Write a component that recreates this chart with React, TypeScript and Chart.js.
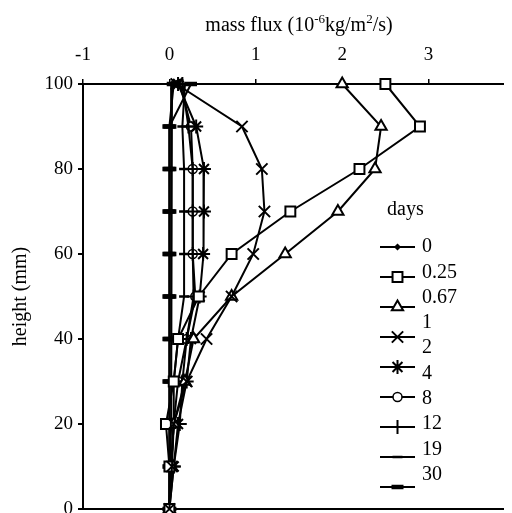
import React, { useEffect, useRef } from "react";
import { Chart, registerables } from "chart.js";

Chart.register(...registerables);

const heights = [100, 90, 80, 70, 60, 50, 40, 30, 20, 10, 0];
const dayLabels = ["0", "0.25", "0.67", "1", "2", "4", "8", "12", "19", "30"];

const flux0 = [0.03, 0.02, 0.02, 0.02, 0.02, 0.02, 0.02, 0.02, 0.02, 0.01, 0.0];
const flux025 = [2.5, 2.9, 2.2, 1.4, 0.72, 0.34, 0.1, 0.05, -0.04, 0.0, 0.0];
const flux067 = [2.0, 2.45, 2.38, 1.95, 1.34, 0.72, 0.28, 0.18, 0.05, 0.02, 0.0];
const flux1 = [0.08, 0.84, 1.07, 1.1, 0.97, 0.72, 0.43, 0.2, 0.05, 0.03, 0.0];
const flux2 = [0.1, 0.31, 0.4, 0.4, 0.39, 0.35, 0.25, 0.2, 0.1, 0.05, 0.0];
const flux4 = [0.12, 0.25, 0.27, 0.27, 0.27, 0.3, 0.2, 0.1, 0.05, 0.02, 0.0];
const flux8 = [0.15, 0.22, 0.27, 0.27, 0.27, 0.28, 0.2, 0.15, 0.12, 0.05, 0.0];
const flux12 = [0.18, 0.15, 0.17, 0.17, 0.17, 0.17, 0.1, 0.05, 0.05, 0.02, 0.0];
const flux19 = [0.25, 0.0, 0.0, 0.0, 0.0, 0.0, 0.0, 0.0, 0.0, 0.0, 0.0];
const flux30 = [0.05, 0.0, 0.0, 0.0, 0.0, 0.0, 0.0, 0.0, 0.0, 0.0, 0.0];

const xTicks = [-1, 0, 1, 2, 3, 4];
const yTicks = [0, 20, 40, 60, 80, 100];

const seriesValues = [flux0, flux025, flux067, flux1, flux2, flux4, flux8, flux12, flux19, flux30];

type Marker = { style: string; radius: number; bw: number; bg: string; order: number };
const markers: Marker[] = [
  { style: "rectRot", radius: 2.5, bw: 1.5, bg: "#000000", order: 5 },
  { style: "rect", radius: 7, bw: 2, bg: "#ffffff", order: 1 },
  { style: "triangle", radius: 6.5, bw: 2, bg: "#ffffff", order: 2 },
  { style: "crossRot", radius: 8, bw: 2, bg: "#ffffff", order: 0 },
  { style: "star", radius: 7, bw: 2, bg: "#ffffff", order: 3 },
  { style: "circle", radius: 3, bw: 1.5, bg: "#ffffff", order: 6 },
  { style: "cross", radius: 7, bw: 2, bg: "#ffffff", order: 4 },
  { style: "line", radius: 5, bw: 2.5, bg: "#000000", order: 4 },
  { style: "line", radius: 6, bw: 4.5, bg: "#000000", order: 3 },
  { style: "line", radius: 7, bw: 4.5, bg: "#000000", order: 3 },
];

const FONT = "'Liberation Serif', 'Times New Roman', serif";

function drawMarker(ctx: CanvasRenderingContext2D, m: Marker, x: number, y: number) {
  const r = m.radius;
  ctx.save();
  ctx.strokeStyle = "#000";
  ctx.fillStyle = m.bg;
  ctx.lineWidth = m.bw;
  ctx.beginPath();
  const s = Math.SQRT1_2 * r;
  switch (m.style) {
    case "rectRot":
      ctx.moveTo(x, y - r);
      ctx.lineTo(x + r, y);
      ctx.lineTo(x, y + r);
      ctx.lineTo(x - r, y);
      ctx.closePath();
      ctx.fill();
      ctx.stroke();
      break;
    case "rect":
      ctx.rect(x - s, y - s, 2 * s, 2 * s);
      ctx.fill();
      ctx.stroke();
      break;
    case "triangle":
      ctx.moveTo(x, y - r);
      ctx.lineTo(x + r * 0.866, y + r * 0.5);
      ctx.lineTo(x - r * 0.866, y + r * 0.5);
      ctx.closePath();
      ctx.fill();
      ctx.stroke();
      break;
    case "crossRot":
      ctx.moveTo(x - s, y - s);
      ctx.lineTo(x + s, y + s);
      ctx.moveTo(x - s, y + s);
      ctx.lineTo(x + s, y - s);
      ctx.stroke();
      break;
    case "star":
      ctx.moveTo(x - s, y - s);
      ctx.lineTo(x + s, y + s);
      ctx.moveTo(x - s, y + s);
      ctx.lineTo(x + s, y - s);
      ctx.moveTo(x, y - r);
      ctx.lineTo(x, y + r);
      ctx.stroke();
      break;
    case "circle":
      ctx.arc(x, y, r + 1.5, 0, Math.PI * 2);
      ctx.fill();
      ctx.stroke();
      break;
    case "cross":
      ctx.moveTo(x, y - r);
      ctx.lineTo(x, y + r);
      ctx.moveTo(x - r, y);
      ctx.lineTo(x + r, y);
      ctx.stroke();
      break;
    case "line":
      ctx.moveTo(x - r, y);
      ctx.lineTo(x + r, y);
      ctx.stroke();
      break;
  }
  ctx.restore();
}

const overlayPlugin = {
  id: "overlay",
  afterDraw(chart: any) {
    const ctx: CanvasRenderingContext2D = chart.ctx;
    const area = chart.chartArea;
    ctx.save();
    ctx.fillStyle = "#000";
    const big = `20px ${FONT}`;
    const small = `13px ${FONT}`;
    const parts: [string, boolean][] = [
      ["mass flux (10", false],
      ["-6", true],
      ["kg/m", false],
      ["2", true],
      ["/s)", false],
    ];
    let total = 0;
    for (const [t, sup] of parts) {
      ctx.font = sup ? small : big;
      total += ctx.measureText(t).width;
    }
    let x = (area.left + area.right) / 2 - total / 2;
    const baseY = 23;
    ctx.textBaseline = "alphabetic";
    ctx.textAlign = "left";
    for (const [t, sup] of parts) {
      ctx.font = sup ? small : big;
      ctx.fillText(t, x, sup ? baseY - 8 : baseY);
      x += ctx.measureText(t).width;
    }

    ctx.save();
    ctx.translate(13, (area.top + area.bottom) / 2);
    ctx.rotate(-Math.PI / 2);
    ctx.font = big;
    ctx.textAlign = "center";
    ctx.textBaseline = "middle";
    ctx.fillText("height (mm)", 0, 0);
    ctx.restore();

    ctx.font = `20px ${FONT}`;
    ctx.textAlign = "left";
    ctx.textBaseline = "middle";
    ctx.fillText("days", 379, 202);
    for (let i = 0; i < dayLabels.length; i++) {
      const my = 239 + 30 * i;
      ctx.save();
      ctx.strokeStyle = "#000";
      ctx.lineWidth = 2;
      ctx.beginPath();
      ctx.moveTo(372, my);
      ctx.lineTo(407, my);
      ctx.stroke();
      ctx.restore();
      drawMarker(ctx, markers[i], 389.5, my);
      ctx.fillStyle = "#000";
      ctx.fillText(dayLabels[i], 414, 239 + 25.3 * i);
    }
    ctx.restore();
  },
};

export default function App() {
  const canvasRef = useRef<HTMLCanvasElement | null>(null);

  useEffect(() => {
    if (!canvasRef.current) return;
    const datasets = seriesValues.map((vals, i) => ({
      label: dayLabels[i],
      data: vals.map((v, j) => ({ x: v, y: heights[j] })),
      order: markers[i].order,
      borderColor: "#000",
      borderWidth: 2,
      backgroundColor: markers[i].bg,
      pointStyle: markers[i].style,
      pointRadius: markers[i].style === "circle" ? markers[i].radius + 1.5 : markers[i].radius,
      pointBorderWidth: markers[i].bw,
      pointBorderColor: "#000",
      pointBackgroundColor: markers[i].bg,
      tension: 0,
      fill: false,
      clip: false as any,
    }));
    const chart = new Chart(canvasRef.current, {
      type: "line",
      data: { datasets },
      plugins: [overlayPlugin],
      options: {
        animation: false,
        responsive: false,
        maintainAspectRatio: false,
        layout: { padding: { left: 0, top: 0, right: 33, bottom: 19 } },
        plugins: {
          legend: { display: false },
          tooltip: { enabled: false },
          title: { display: false },
        },
        scales: {
          x: {
            type: "linear",
            position: "top",
            min: xTicks[0],
            max: xTicks[xTicks.length - 1],
            afterBuildTicks: (scale: any) => {
              scale.ticks = xTicks.map((v) => ({ value: v }));
            },
            afterFit: (scale: any) => {
              scale.height = 76;
            },
            ticks: {
              color: "#000",
              font: { family: FONT, size: 19 },
              padding: 13,
              maxRotation: 0,
              autoSkip: false,
            },
            grid: {
              drawOnChartArea: false,
              drawTicks: true,
              tickLength: 5,
              color: "#000",
              lineWidth: 1.5,
            },
            border: { display: true, color: "#000", width: 2 },
          },
          y: {
            type: "linear",
            position: "left",
            min: yTicks[0],
            max: yTicks[yTicks.length - 1],
            afterBuildTicks: (scale: any) => {
              scale.ticks = yTicks.map((v) => ({ value: v }));
            },
            afterFit: (scale: any) => {
              scale.width = 75;
            },
            ticks: {
              color: "#000",
              font: { family: FONT, size: 19 },
              padding: 5,
            },
            grid: {
              drawOnChartArea: true,
              drawTicks: true,
              tickLength: 5,
              color: (c: any) => (c.tick && c.tick.value === 0 ? "#000" : "rgba(0,0,0,0)"),
              tickColor: "#000",
              lineWidth: 2,
            },
            border: { display: true, color: "#000", width: 2 },
          },
        },
      } as any,
    });
    return () => chart.destroy();
  }, []);

  return (
    <div style={{ width: 504, height: 505, overflow: "hidden", position: "relative" }}>
      <canvas ref={canvasRef} width={540} height={520} style={{ width: 540, height: 520, display: "block" }} />
    </div>
  );
}
